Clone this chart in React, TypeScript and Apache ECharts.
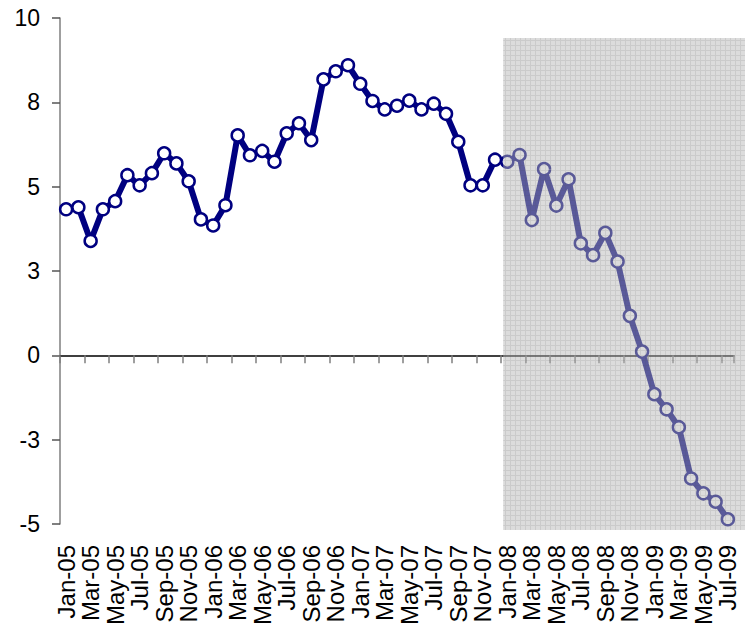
import React, { useEffect, useRef } from "react";
import * as echarts from "echarts";

const months = [
  "Jan-05","Feb-05","Mar-05","Apr-05","May-05","Jun-05","Jul-05","Aug-05","Sep-05","Oct-05","Nov-05","Dec-05",
  "Jan-06","Feb-06","Mar-06","Apr-06","May-06","Jun-06","Jul-06","Aug-06","Sep-06","Oct-06","Nov-06","Dec-06",
  "Jan-07","Feb-07","Mar-07","Apr-07","May-07","Jun-07","Jul-07","Aug-07","Sep-07","Oct-07","Nov-07","Dec-07",
  "Jan-08","Feb-08","Mar-08","Apr-08","May-08","Jun-08","Jul-08","Aug-08","Sep-08","Oct-08","Nov-08","Dec-08",
  "Jan-09","Feb-09","Mar-09","Apr-09","May-09","Jun-09","Jul-09",
];

const values = [
  4.33, 4.39, 3.39, 4.33, 4.57, 5.34, 5.04, 5.40, 5.99, 5.69, 5.16, 4.03,
  3.85, 4.45, 6.52, 5.93, 6.06, 5.74, 6.58, 6.88, 6.38, 8.18, 8.42, 8.60,
  8.05, 7.54, 7.29, 7.40, 7.55, 7.29, 7.46, 7.16, 6.33, 5.04, 5.04, 5.80,
  5.74, 5.94, 4.01, 5.52, 4.44, 5.22, 3.32, 2.97, 3.63, 2.78, 1.17, 0.11,
  -1.15, -1.60, -2.13, -3.65, -4.09, -4.34, -4.86,
];

const yMin = -5;
const yMax = 10;
const yInterval = 2.5;
const shadeStart = "Jan-08";
const shadeTopValue = 9.41;

function makePattern(): string {
  const c = document.createElement("canvas");
  c.width = 5;
  c.height = 5;
  const ctx = c.getContext("2d")!;
  ctx.fillStyle = "rgba(184,184,184,0.49)";
  ctx.fillRect(0, 0, 5, 5);
  ctx.clearRect(0, 0, 5, 1);
  ctx.clearRect(0, 0, 1, 5);
  ctx.fillStyle = "rgba(160,160,160,0.55)";
  ctx.fillRect(0, 0, 5, 1);
  ctx.fillRect(0, 1, 1, 4);
  return c.toDataURL();
}

export default function App() {
  const ref = useRef<HTMLDivElement>(null);

  useEffect(() => {
    if (!ref.current) return;
    const chart = echarts.init(ref.current, null, { renderer: "svg" });
    const font = "'Liberation Sans', Arial, sans-serif";
    chart.setOption({
      animation: false,
      backgroundColor: "#ffffff",
      grid: { left: 60, right: 11, top: 18, bottom: 110, containLabel: false },
      xAxis: [
        {
          type: "category",
          data: months,
          position: "bottom",
          boundaryGap: true,
          axisLine: { show: true, onZero: true, lineStyle: { color: "#000000", width: 1.5 } },
          axisTick: { show: true, interval: 1, length: 8, lineStyle: { color: "#7f7f7f", width: 1.5 } },
          axisLabel: { show: false },
          splitLine: { show: false },
        },
        {
          type: "category",
          data: months,
          position: "bottom",
          boundaryGap: true,
          axisLine: { show: false, onZero: false },
          axisTick: { show: false },
          axisLabel: {
            show: true,
            interval: 1,
            rotate: 90,
            margin: 21,
            fontSize: 24,
            color: "#000000",
            fontFamily: font,
          },
          splitLine: { show: false },
        },
      ],
      yAxis: {
        type: "value",
        min: yMin,
        max: yMax,
        interval: yInterval,
        axisLine: { show: true, lineStyle: { color: "#7f7f7f", width: 1.5 } },
        axisTick: { show: true, length: 8, lineStyle: { color: "#555555", width: 1.5 } },
        axisLabel: {
          margin: 20,
          fontSize: 23,
          color: "#000000",
          fontFamily: font,
          formatter: (v: number) => String(Math.sign(v) * Math.round(Math.abs(v))),
        },
        splitLine: { show: false },
      },
      series: [
        {
          type: "line",
          xAxisIndex: 0,
          data: values,
          symbol: "circle",
          symbolSize: 12,
          showSymbol: true,
          showAllSymbol: true,
          lineStyle: { color: "#000080", width: 6 },
          itemStyle: { color: "#ffffff", borderColor: "#000080", borderWidth: 2.5 },
          z: 2,
        },
      ],
    });

    const idx = months.indexOf(shadeStart);
    const pStart = chart.convertToPixel({ xAxisIndex: 0 }, months[idx]) as number;
    const pPrev = chart.convertToPixel({ xAxisIndex: 0 }, months[idx - 1]) as number;
    const left = (pStart + pPrev) / 2 + 2;
    const top = chart.convertToPixel({ yAxisIndex: 0 }, shadeTopValue) as number;
    const bottom = (chart.convertToPixel({ yAxisIndex: 0 }, yMin) as number) + 6;
    const width = chart.getWidth() - left;

    chart.setOption({
      graphic: [
        {
          type: "rect",
          z: 100,
          silent: true,
          shape: { x: left, y: top, width, height: bottom - top },
          style: {
            fill: { image: makePattern(), repeat: "repeat", imageWidth: 5, imageHeight: 5 } as any,
          },
        },
      ],
    });

    return () => chart.dispose();
  }, []);

  return (
    <div
      ref={ref}
      style={{ position: "fixed", left: 0, top: 0, width: 745, height: 634, background: "#fff" }}
    />
  );
}
